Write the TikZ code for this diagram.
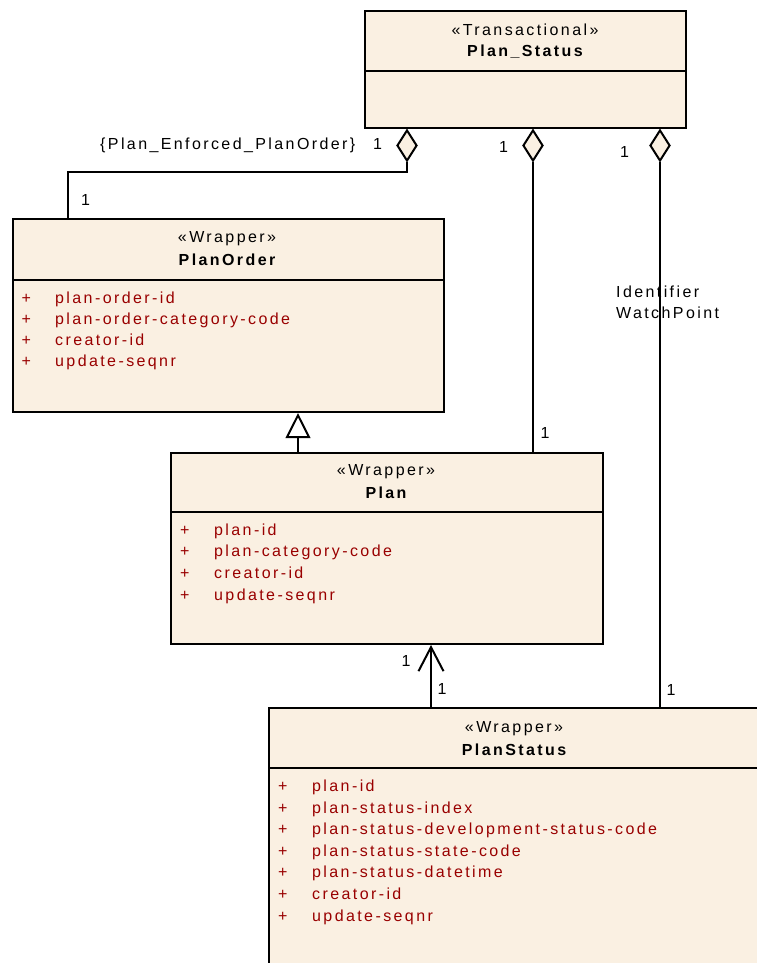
\documentclass[tikz,border=0pt]{standalone}
\usepackage{fontspec}
\setmainfont{Liberation Sans}[LetterSpace=15]
\usetikzlibrary{shapes.geometric,arrows.meta}
\definecolor{boxfill}{RGB}{250,240,226}
\definecolor{attr}{RGB}{153,0,0}
\begin{document}
\begin{tikzpicture}[x=1bp,y=-1bp, font=\fontsize{16bp}{19bp}\selectfont,
  box/.style={draw, line width=2bp, fill=boxfill, rectangle, inner sep=0pt, anchor=north west},
  lbl/.style={inner sep=0pt, anchor=base west},
  hdr/.style={inner sep=0pt, anchor=base},
  attrtxt/.style={inner sep=0pt, anchor=base west, text=attr},
  dmd/.style={diamond, draw, line width=2bp, fill=boxfill, inner sep=0pt, minimum width=20bp, minimum height=31bp, anchor=north},
  conn/.style={line width=2bp}]
\clip (0,0) rectangle (757,963);

% boxes
\node[box, minimum width=321bp, minimum height=117bp] (PS) at (364,10) {};
\draw[conn] (PS.west |- 0,71) -- (PS.east |- 0,71);
\node[box, minimum width=431bp, minimum height=193bp] (PO) at (12,218) {};
\draw[conn] (PO.west |- 0,280) -- (PO.east |- 0,280);
\node[box, minimum width=432bp, minimum height=191bp] (PL) at (170,452) {};
\draw[conn] (PL.west |- 0,512) -- (PL.east |- 0,512);
\node[box, minimum width=492bp, minimum height=300bp] (PST) at (268,707) {};
\draw[conn] (PST.west |- 0,768) -- (PST.east |- 0,768);

% headers
\node[hdr] (psS) at (525,35) {«Transactional»};
\node[hdr, font=\fontsize{16bp}{19bp}\selectfont\bfseries] (psN) at (525,56.5) {Plan\_Status};
\node[hdr] (poS) at (227,242.5) {«Wrapper»};
\node[hdr, font=\fontsize{16bp}{19bp}\selectfont\bfseries] (poN) at (227,265) {PlanOrder};
\node[hdr] (plS) at (386,475.5) {«Wrapper»};
\node[hdr, font=\fontsize{16bp}{19bp}\selectfont\bfseries] (plN) at (386,498.5) {Plan};
\node[hdr] (pstS) at (514,732.5) {«Wrapper»};
\node[hdr, font=\fontsize{16bp}{19bp}\selectfont\bfseries] (pstN) at (514,755) {PlanStatus};

% attributes
\foreach \t [count=\i from 0] in {plan-order-id,plan-order-category-code,creator-id,update-seqnr}{
  \node[attrtxt] (poP\i) at (21.5,303+21.1*\i) {+};
  \node[attrtxt] (poA\i) at (55,303+21.1*\i) {\t};
}
\foreach \t [count=\i from 0] in {plan-id,plan-category-code,creator-id,update-seqnr}{
  \node[attrtxt] (plP\i) at (180,535+21.7*\i) {+};
  \node[attrtxt] (plA\i) at (214,535+21.7*\i) {\t};
}
\foreach \t [count=\i from 0] in {plan-id,plan-status-index,plan-status-development-status-code,plan-status-state-code,plan-status-datetime,creator-id,update-seqnr}{
  \node[attrtxt] (pstP\i) at (278,791.7+21.55*\i) {+};
  \node[attrtxt] (pstA\i) at (312,791.7+21.55*\i) {\t};
}

% diamonds
\node[dmd] (d1) at (PS.south -| 407,0) {};
\node[dmd] (d2) at (PS.south -| 533,0) {};
\node[dmd] (d3) at (PS.south -| 660,0) {};

% connectors
\coordinate (bend) at (68,172);
\draw[conn] (d1.south) |- (bend) -- (PO.north -| bend);
\draw[conn] (d2.south) -- (PL.north -| d2.south);
\draw[conn] (d3.south) -- (PST.north -| d3.south);
\coordinate (gen) at (298,0);
\draw[conn, -{Triangle[length=25bp, width=24.6bp, fill=white]}] (PL.north -| gen) -- (PO.south -| gen);
\coordinate (nav) at (431,0);
\draw[conn, -{Straight Barb[length=24bp, width=25bp]}] (PST.north -| nav) -- (PL.south -| nav);

% labels
\node[lbl] (l1) at (373,149) {1};
\node[lbl] (lc) at (100,149) {\{Plan\_Enforced\_PlanOrder\}};
\node[lbl] (l2) at (499,152) {1};
\node[lbl] (l3) at (620,157) {1};
\node[lbl] (l4) at (81,205) {1};
\node[lbl] (l5) at (540.5,438.5) {1};
\node[lbl] (lid) at (616,297.5) {Identifier};
\node[lbl] (lwp) at (616,318) {WatchPoint};
\node[lbl] (l6) at (666.5,695) {1};
\node[lbl] (l7) at (401.5,666) {1};
\node[lbl] (l8) at (437.5,694) {1};
\end{tikzpicture}
\end{document}
